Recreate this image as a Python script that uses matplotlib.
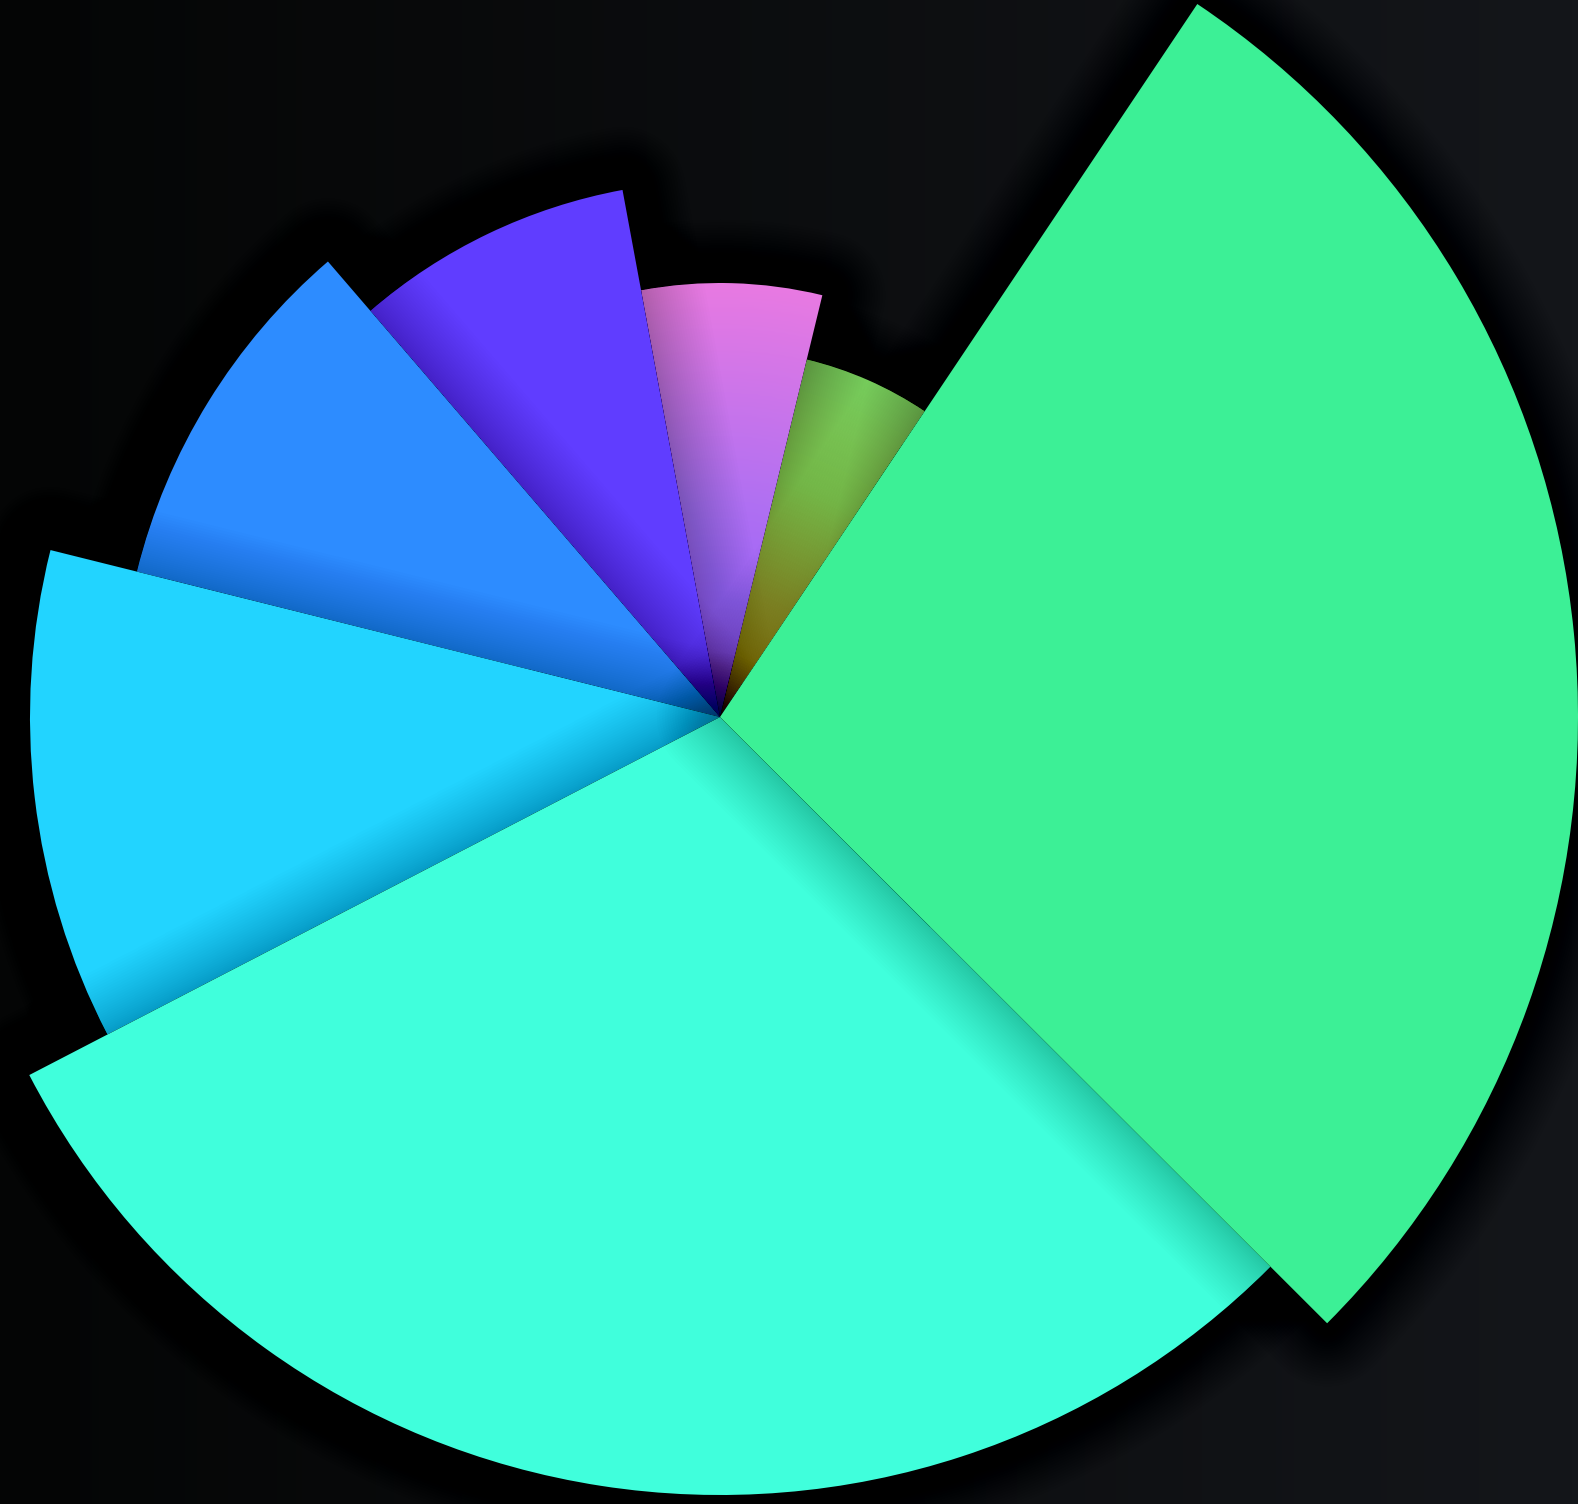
import numpy as np
import matplotlib
matplotlib.use('Agg')
import matplotlib.pyplot as plt
from matplotlib.patches import Wedge
from matplotlib.colors import LinearSegmentedColormap, to_rgb

W, H = 1578, 1504

# slice data, clockwise from the big green one
values = [28.1, 29.9, 11.5, 9.8, 8.4, 6.7, 5.6]          # angle share (%)
radius_values = [858, 778, 690, 601, 536, 434, 368]       # radius measure
colors = ['#3cf096', '#40ffdc', '#22d4ff', '#2d8cff', '#603dff', None, None]
gradients = {
    5: ['#8a58ff', '#b070f2', '#e87ae2'],
    6: ['#d8a034', '#bcc444', '#8ad858', '#76cc5c'],
}
start_angle = 56.2
cx, cy = 720, H - 717

fig = plt.figure(figsize=(W / 100, H / 100), dpi=100)
ax = fig.add_axes([0, 0, 1, 1])
ax.set_xlim(0, W)
ax.set_ylim(0, H)
ax.set_aspect('equal')
ax.axis('off')

# dark background, a bit lighter to the right
c0, c1 = np.array(to_rgb('#040505')), np.array(to_rgb('#14161a'))
t = np.linspace(0, 1, 256)[None, :, None]
bg = c0 + (c1 - c0) * t
ax.imshow(bg, extent=[0, W, 0, H], aspect='auto', zorder=0)

# angles (clockwise)
cum = np.concatenate([[0], np.cumsum(values)]) / sum(values) * 360
theta_end = start_angle - cum[:-1]
theta_start = start_angle - cum[1:]

# draw in reverse so each slice shadows the next one clockwise
z = 2
for i in reversed(range(len(values))):
    r = radius_values[i]
    # soft shadow: stacked strokes
    n = 28
    for k in range(n):
        lw = 90 * (1 - k / n) ** 1.2 + 1
        sh = Wedge((cx, cy), r, theta_start[i], theta_end[i], facecolor='black',
                   edgecolor='black', linewidth=lw, alpha=0.008, joinstyle='round', zorder=z)
        ax.add_patch(sh)
    z += 1
    if colors[i] is not None:
        ax.add_patch(Wedge((cx, cy), r, theta_start[i], theta_end[i],
                           facecolor=colors[i], edgecolor='none', zorder=z))
    else:
        w = Wedge((cx, cy), r, theta_start[i], theta_end[i], facecolor='none',
                  edgecolor='none', zorder=z)
        ax.add_patch(w)
        cmap = LinearSegmentedColormap.from_list('g%d' % i, gradients[i])
        xs = np.linspace(cx - r, cx + r, 400)
        ys = np.linspace(cy - r, cy + r, 400)
        X, Y = np.meshgrid(xs, ys)
        D = np.clip(np.hypot(X - cx, Y - cy) / r, 0, 1)
        im = ax.imshow(cmap(D), extent=[cx - r, cx + r, cy - r, cy + r],
                       origin='lower', aspect='auto', zorder=z, interpolation='bilinear')
        im.set_clip_path(w)
    z += 1

fig.savefig('out.png', dpi=100)
